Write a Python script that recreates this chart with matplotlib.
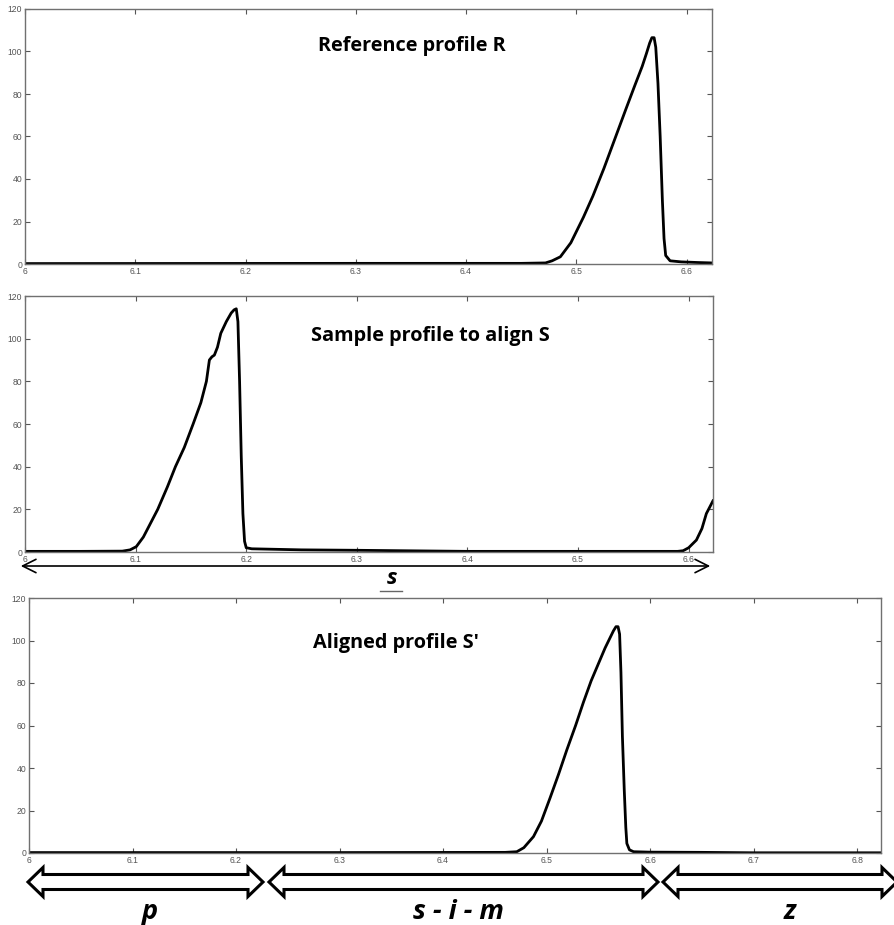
import numpy as np
import matplotlib
matplotlib.use('Agg')
from matplotlib import pyplot as plt
from matplotlib.patches import Polygon

# ---Profiles-------------------------------------------
ref_x = [6.0, 6.3, 6.45, 6.472, 6.478, 6.4855, 6.495, 6.5064, 6.515, 6.525, 6.535, 6.545,
         6.553, 6.5597, 6.5635, 6.5665, 6.5685, 6.5705, 6.572, 6.574, 6.576, 6.578,
         6.5795, 6.581, 6.585, 6.595, 6.61, 6.623]
ref_y = [0.2, 0.3, 0.3, 0.5, 1.5, 3.4, 10, 22, 32, 45, 59, 73,
         84, 93, 99, 104, 106.5, 106.5, 102, 85, 60, 30,
         12, 4, 1.5, 1, 0.7, 0.5]

smp_x = [6.0, 6.05, 6.088, 6.095, 6.1006, 6.107, 6.1136, 6.12, 6.1288, 6.136, 6.144, 6.152,
         6.159, 6.164, 6.1667, 6.169, 6.1712, 6.174, 6.177, 6.182, 6.1864, 6.189, 6.191,
         6.1925, 6.194, 6.1955, 6.197, 6.1985, 6.2, 6.205, 6.25, 6.3, 6.4, 6.5, 6.59,
         6.595, 6.6, 6.607, 6.612, 6.616, 6.622]
smp_y = [0.3, 0.3, 0.4, 1.0, 2.5, 7, 13.6, 20, 30.6, 40, 49, 60,
         70, 80, 90, 91.5, 92.3, 96, 102.5, 108, 112, 113.5, 114,
         108, 80, 45, 18, 5, 2, 1.5, 1, 0.8, 0.3, 0.3, 0.3,
         0.6, 2, 5.6, 11, 18, 24]

aln_x = [6.0, 6.3, 6.46, 6.4712, 6.478, 6.4873, 6.495, 6.5034, 6.5115, 6.5195, 6.528, 6.5356,
         6.543, 6.5517, 6.5565, 6.561, 6.5645, 6.567, 6.569, 6.5705, 6.5718, 6.5732, 6.575,
         6.5765, 6.5775, 6.58, 6.584, 6.6, 6.65, 6.7, 6.823]
aln_y = [0.2, 0.2, 0.3, 0.6, 2.5, 7.7, 15, 26, 37, 48.5, 60, 71,
         81, 91, 96.5, 101, 104.5, 106.5, 106.5, 103, 85, 55, 29.6,
         12, 4.5, 1.5, 0.6, 0.4, 0.3, 0.1, 0.1]

titles = ['Reference profile R', 'Sample profile to align S', "Aligned profile S'"]
xmax = [6.623, 6.622, 6.823]
yticks = [0, 20, 40, 60, 80, 100, 120]
seg_labels = ['p', 's - i - m', 'z']

W, H = 895, 925
fig = plt.figure(figsize=(W / 100, H / 100), dpi=100, facecolor='w')

# axes boxes in pixels: left, top, right, bottom
boxes = [(25, 9, 712, 264), (25, 296, 713, 552), (29, 598, 881, 853)]
data = [(ref_x, ref_y), (smp_x, smp_y), (aln_x, aln_y)]

axx = []
for i, (l, t, r, b) in enumerate(boxes):
    ax = fig.add_axes([l / W, 1 - b / H, (r - l) / W, (b - t) / H])
    x, y = data[i]
    ax.plot(x, y, 'k-', lw=2.0, solid_joinstyle='round')
    ax.set_xlim(6.0, xmax[i])
    ax.set_ylim(0, 120)
    ax.set_yticks(yticks)
    xt = np.round(np.arange(6.0, xmax[i], 0.1), 1)
    ax.set_xticks(xt)
    ax.set_xticklabels(['6' if v == 6.0 else '%.1f' % v for v in xt])
    ax.tick_params(direction='in', top=True, right=True, length=3.5, width=0.8,
                   labelsize=6.2, labelcolor='#555555', color='#555555', pad=2)
    for lab in ax.get_xticklabels() + ax.get_yticklabels():
        lab.set_family('Liberation Sans')
    for s in ax.spines.values():
        s.set_color('#707070')
        s.set_linewidth(1.0)
    axx.append(ax)

# overlay in pixel coordinates for annotations
ov = fig.add_axes([0, 0, 1, 1], facecolor='none')
ov.set_xlim(0, W)
ov.set_ylim(H, 0)
ov.axis('off')

title_pos = [(412, 46), (430, 336), (396, 643)]
for (tx, ty), txt in zip(title_pos, titles):
    ov.text(tx, ty, txt, ha='center', va='center', fontsize=14.3,
            fontweight='bold', family='Open Sans')

# thin double arrow under the sample profile
ov.annotate('', xy=(18, 566), xytext=(713, 566),
            arrowprops=dict(arrowstyle='<->', lw=1.2, color='k', mutation_scale=24))
ov.text(392, 579, 's', ha='center', va='center', fontsize=16, fontweight='bold',
        style='italic', family='Open Sans')
ov.plot([380, 402], [591, 591], color='#666666', lw=1)


def double_arrow(x0, x1, yc, sh=7.5, hh=14.5, hl=15):
    pts = [(x0, yc), (x0 + hl, yc - hh), (x0 + hl, yc - sh), (x1 - hl, yc - sh),
           (x1 - hl, yc - hh), (x1, yc), (x1 - hl, yc + hh), (x1 - hl, yc + sh),
           (x0 + hl, yc + sh), (x0 + hl, yc + hh)]
    ov.add_patch(Polygon(pts, closed=True, facecolor='white', edgecolor='black',
                         lw=2.2, joinstyle='miter'))


segs = [(28, 263), (269, 658), (663, 897)]
lab_x = [150, 458, 790]
for (a, b), lx, lab in zip(segs, lab_x, seg_labels):
    double_arrow(a, b, 882)
    ov.text(lx, 912, lab, ha='center', va='center', fontsize=19.5, fontweight='bold',
            style='italic', family='Open Sans')

plt.savefig('out.png', dpi=100, facecolor='w')
